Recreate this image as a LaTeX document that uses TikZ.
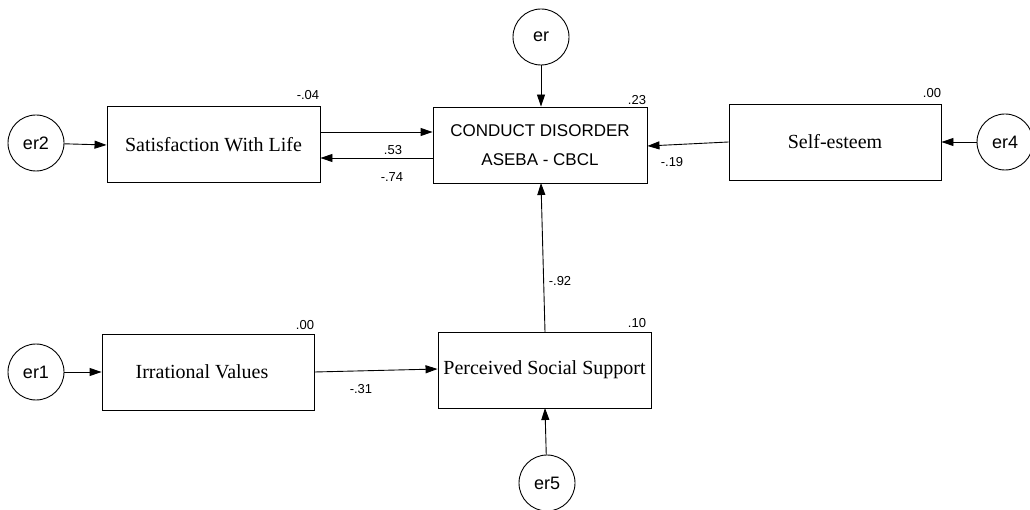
\documentclass[tikz,border=0pt]{standalone}
\usepackage{fontspec}
\setmainfont{Liberation Serif}
\setsansfont{Liberation Sans}
\usetikzlibrary{arrows.meta}
\tikzset{
  varbox/.style={draw, line width=0.9pt, minimum width=#1, minimum height=76pt, inner sep=0pt, font=\fontsize{20}{24}\selectfont\rmfamily},
  errc/.style={draw, circle, line width=0.9pt, minimum size=56pt, inner sep=0pt, font=\fontsize{18}{20}\selectfont\sffamily},
  coef/.style={font=\fontsize{13}{15}\selectfont\sffamily, inner sep=0pt},
  path/.style={line width=0.9pt, -{Triangle[length=12pt,width=8pt]}}
}
\begin{document}
\begin{tikzpicture}[x=1pt,y=-1pt]
\useasboundingbox (0,0) rectangle (1030,510);
% boxes
\node[varbox=213pt] (sat) at (213.5,144.5) {\raisebox{-2pt}{Satisfaction With Life}};
\node[varbox=214pt, align=center, font=\fontsize{17}{20}\selectfont\sffamily] (cd) at (540,145) {CONDUCT DISORDER\\[9pt]ASEBA - CBCL};
\node[varbox=212pt] (se) at (835,142) {\raisebox{2pt}{Self-esteem}};
\node[varbox=212pt] (irr) at (208,372) {\hspace{-12pt}Irrational Values};
\node[varbox=213pt] (pss) at (544.5,370) {\raisebox{3pt}{Perceived Social Support}};
% error circles
\node[errc] (er) at (541,37) {er};
\node[errc] (er2) at (36,143) {er2};
\node[errc] (er4) at (1005,142) {er4};
\node[errc] (er1) at (36,372) {er1};
\node[errc] (er5) at (547,483) {er5};
% connector anchor points
\coordinate (satA) at (sat.east |- 0,132);
\coordinate (cdA) at (cd.west |- 0,132);
\coordinate (cdB) at (cd.west |- 0,158);
\coordinate (satB) at (sat.east |- 0,158);
\coordinate (seA) at (se.west |- 0,142);
\coordinate (cdC) at (cd.east |- 0,146);
\coordinate (irrA) at (irr.east |- 0,372);
\coordinate (pssA) at (pss.west |- 0,369);
\coordinate (pssT) at (545,332);
\coordinate (cdBot) at (541,183);
\coordinate (pssBot) at (545,408);
% paths
\draw[path] (er2) -- (sat.west |- 0,145);
\draw[path] (satA) -- (cdA);
\draw[path] (cdB) -- (satB);
\draw[path] (er) -- (cd.north -| er);
\draw[path] (seA) -- (cdC);
\draw[path] (er4) -- (se.east |- er4);
\draw[path] (er1) -- (irr.west |- er1);
\draw[path] (irrA) -- (pssA);
\draw[path] (pssT) -- (cdBot);
\draw[path] (er5) -- (pssBot);
% coefficients
\node[coef] (c1) at (308,95) {-.04};
\node[coef] (c2) at (637,100) {.23};
\node[coef] (c3) at (932,93) {.00};
\node[coef] (c4) at (305,325) {.00};
\node[coef] (c5) at (637,323) {.10};
\node[coef] (c6) at (393,150) {.53};
\node[coef] (c7) at (392,177) {-.74};
\node[coef] (c8) at (672,162) {-.19};
\node[coef] (c9) at (361,389) {-.31};
\node[coef] (c10) at (560,281) {-.92};
\end{tikzpicture}
\end{document}
